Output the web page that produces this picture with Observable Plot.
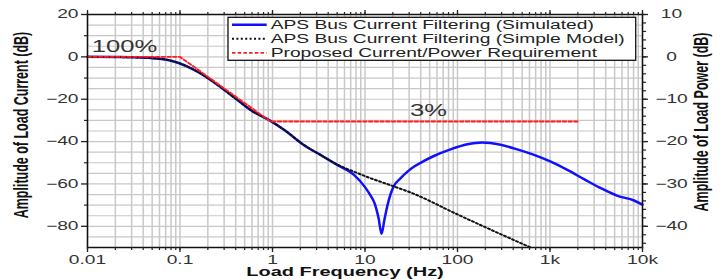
<!DOCTYPE html>
<html>
<head>
<meta charset="utf-8">
<script src="https://cdn.jsdelivr.net/npm/d3@7"></script>
<script src="https://cdn.jsdelivr.net/npm/@observablehq/plot@0.6"></script>
<style>
  html, body { margin: 0; padding: 0; background: #fff; }
</style>
</head>
<body>
<div id="chart"></div>
<script>
// ---- Data ----
// APS Bus Current Filtering (Simulated)
const simFreq = [0.01, 0.02, 0.03, 0.05, 0.08, 0.114, 0.16, 0.26, 0.4, 0.6, 0.95, 1.38, 2.18, 3.3, 5, 7.6, 10, 11.5, 12.8, 14.0, 15.1, 16.2, 17.4, 19, 20.5, 24, 28.6, 34, 43, 55.6, 84, 128, 185, 292, 443, 672, 1020, 1540, 2330, 3540, 5370, 8100, 10000];
const simAmp  = [0, -0.1, -0.2, -0.6, -1.8, -4.1, -7.4, -13.5, -19.7, -25.5, -30.2, -34.9, -41.6, -46.3, -51, -55.7, -61.5, -65.5, -69.5, -76, -83.5, -77, -70.5, -64.5, -61, -57.5, -54.3, -51.8, -49.2, -46.8, -43.7, -41.3, -40.4, -41.5, -43.7, -46.3, -49.5, -53.4, -57.7, -62, -65.6, -67.8, -69.8];
// APS Bus Current Filtering (Simple Model)
const modelFreq = [0.01, 0.02, 0.03, 0.05, 0.08, 0.114, 0.16, 0.26, 0.4, 0.6, 0.95, 1.38, 2.18, 3.3, 5, 7.6, 10, 20, 31, 100, 300, 617];
const modelAmp  = [0, -0.1, -0.2, -0.6, -1.8, -4.1, -7.4, -13.5, -19.7, -25.5, -30.2, -34.9, -41.6, -46.3, -50.8, -54.2, -56.3, -61, -64, -74.4, -83.9, -90];
// Proposed Current/Power Requirement
const reqFreq = [0.01, 0.1, 0.95, 2000];
const reqAmp  = [0, 0, -30.5, -30.5];

const seriesNames = [
  "APS Bus Current Filtering (Simulated)",
  "APS Bus Current Filtering (Simple Model)",
  "Proposed Current/Power Requirement"
];

// Tick labels
const xTickValues = [0.01, 0.1, 1, 10, 100, 1000, 10000];
const xTickLabels = ["0.01", "0.1", "1", "10", "100", "1k", "10k"];
const leftTickValues = [20, 0, -20, -40, -60, -80];        // load current (dB)
const rightTickLabels = [10, 0, -10, -20, -30, -40];       // load power (dB) = current / 2

// Annotations
const annotationText = ["100%", "3%"];
const annotationFreq = [0.0251, 48.6];
const annotationAmp  = [4.65, -25.7];

// ---- Build ----
const FONT = "'Liberation Sans', Arial, Helvetica, sans-serif";
const SX = 1.6; // horizontal stretch of the lettering in the reference

const toRows = (fs, as) => fs.map((f, i) => ({f, a: as[i]}));
const sim = toRows(simFreq, simAmp);
const model = toRows(modelFreq, modelAmp);
const req = toRows(reqFreq, reqAmp);
const ann = annotationText.map((t, i) => ({t, f: annotationFreq[i], a: annotationAmp[i]}));

const minorX = [];
for (let k = -2; k <= 3; k++) for (let m = 1; m <= 9; m++) minorX.push(+(m * Math.pow(10, k)).toPrecision(6));
minorX.push(10000);
const gridY = d3.range(-90, 20.1, 5);
const leftMinor = [10, -10, -30, -50, -70];
const rightMinor = d3.range(20, -90, -4);
const rightTickValues = rightTickLabels.map(p => 2 * p);
const fmtMinus = v => String(v).replace("-", "\u2212");

const styles = [
  {stroke: "#1010ff", strokeWidth: 2.5, dash: null},
  {stroke: "#111111", strokeWidth: 2.0, dash: "2,2.4"},
  {stroke: "#ff1e1e", strokeWidth: 1.9, dash: "3.5,2.2"}
];

const chart = Plot.plot({
  width: 725,
  height: 279,
  marginLeft: 87,
  marginRight: 83,
  marginTop: 14,
  marginBottom: 32,
  style: {fontFamily: FONT, fontSize: "12px", color: "#222", background: "#fff", overflow: "visible"},
  x: {type: "log", domain: [0.01, 10000], axis: null},
  y: {domain: [-90, 20], axis: null},
  marks: [
    Plot.ruleY(gridY, {stroke: "#c8c8c8", strokeWidth: 1.2}),
    Plot.ruleX(minorX, {stroke: "#c8c8c8", strokeWidth: 1.5}),
    Plot.line(sim, {x: "f", y: "a", stroke: styles[0].stroke, strokeWidth: styles[0].strokeWidth, curve: "monotone-x"}),
    Plot.line(model, {x: "f", y: "a", stroke: styles[1].stroke, strokeWidth: styles[1].strokeWidth, strokeDasharray: styles[1].dash, curve: "monotone-x"}),
    Plot.line(req, {x: "f", y: "a", stroke: styles[2].stroke, strokeWidth: styles[2].strokeWidth, strokeDasharray: styles[2].dash}),
    Plot.text(ann, {x: "f", y: "a", text: "t", fontSize: 16, fill: "#333", textAnchor: "middle", lineAnchor: "middle"}),
    Plot.frame({stroke: "#111", strokeWidth: 1.5}),
    // bottom axis
    Plot.axisX({anchor: "bottom", ticks: xTickValues, tickFormat: d => xTickLabels[xTickValues.indexOf(d)], tickSize: 5, tickPadding: 3, strokeWidth: 1.3, label: null, fill: "#333"}),
    Plot.axisX({anchor: "bottom", ticks: minorX, tickSize: 3, strokeWidth: 1.2, fill: "none", label: null}),
    // top axis
    Plot.axisX({anchor: "top", ticks: xTickValues, tickSize: 5, strokeWidth: 1.3, fill: "none", label: null}),
    Plot.axisX({anchor: "top", ticks: minorX, tickSize: 3, strokeWidth: 1.2, fill: "none", label: null}),
    // left axis
    Plot.axisY({anchor: "left", ticks: leftTickValues, tickSize: 6, tickPadding: 3, strokeWidth: 1.3, label: null, fill: "#333"}),
    Plot.axisY({anchor: "left", ticks: leftMinor, tickSize: 3, strokeWidth: 1.2, fill: "none", label: null}),
    // right axis (power = current / 2)
    Plot.axisY({anchor: "right", ticks: rightTickValues, tickFormat: d => fmtMinus(d / 2), tickSize: 5, tickPadding: 24, textAnchor: "middle", strokeWidth: 1.3, label: null, fill: "#333"}),
    Plot.axisY({anchor: "right", ticks: rightMinor, tickSize: 3, strokeWidth: 1.2, fill: "none", label: null})
  ]
});

document.getElementById("chart").append(chart);
const svg = d3.select(chart);

// Stretch all lettering horizontally about its anchor, like the reference.
svg.selectAll("text").each(function () {
  const x = +this.getAttribute("x") || 0;
  const t = this.getAttribute("transform") || "";
  this.setAttribute("transform", `${t} translate(${x},0) scale(${SX},1) translate(${-x},0)`);
});

// Axis titles
const titleStyle = sel => sel
  .attr("font-family", FONT).attr("font-size", 12.5).attr("font-weight", "bold")
  .attr("fill", "#111").attr("text-anchor", "middle");

svg.append("text").call(titleStyle)
  .attr("transform", `translate(345,276.3) scale(${SX},1)`)
  .text("Load Frequency (Hz)");
svg.append("text").call(titleStyle)
  .attr("transform", `translate(27.5,125) scale(${SX},1) rotate(-90)`)
  .text("Amplitude of Load Current (dB)");
svg.append("text").call(titleStyle)
  .attr("transform", `translate(707.5,122) scale(${SX},1) rotate(-90)`)
  .text("Amplitude of Load Power (dB)");

// Legend
const lg = svg.append("g");
lg.append("rect").attr("x", 228).attr("y", 17.3).attr("width", 407.7).attr("height", 43)
  .attr("fill", "#fff").attr("stroke", "#111").attr("stroke-width", 1.3);
seriesNames.forEach((name, i) => {
  const cy = 24.7 + i * 14.1;
  const s = styles[i];
  lg.append("line").attr("x1", 232).attr("x2", 266.7).attr("y1", cy).attr("y2", cy)
    .attr("stroke", s.stroke).attr("stroke-width", s.strokeWidth)
    .attr("stroke-dasharray", s.dash);
  lg.append("text")
    .attr("transform", `translate(270.7,${cy + 4.1}) scale(${SX},1)`)
    .attr("font-family", FONT).attr("font-size", 12).attr("fill", "#222")
    .attr("text-anchor", "start")
    .text(name);
});
</script>
</body>
</html>
